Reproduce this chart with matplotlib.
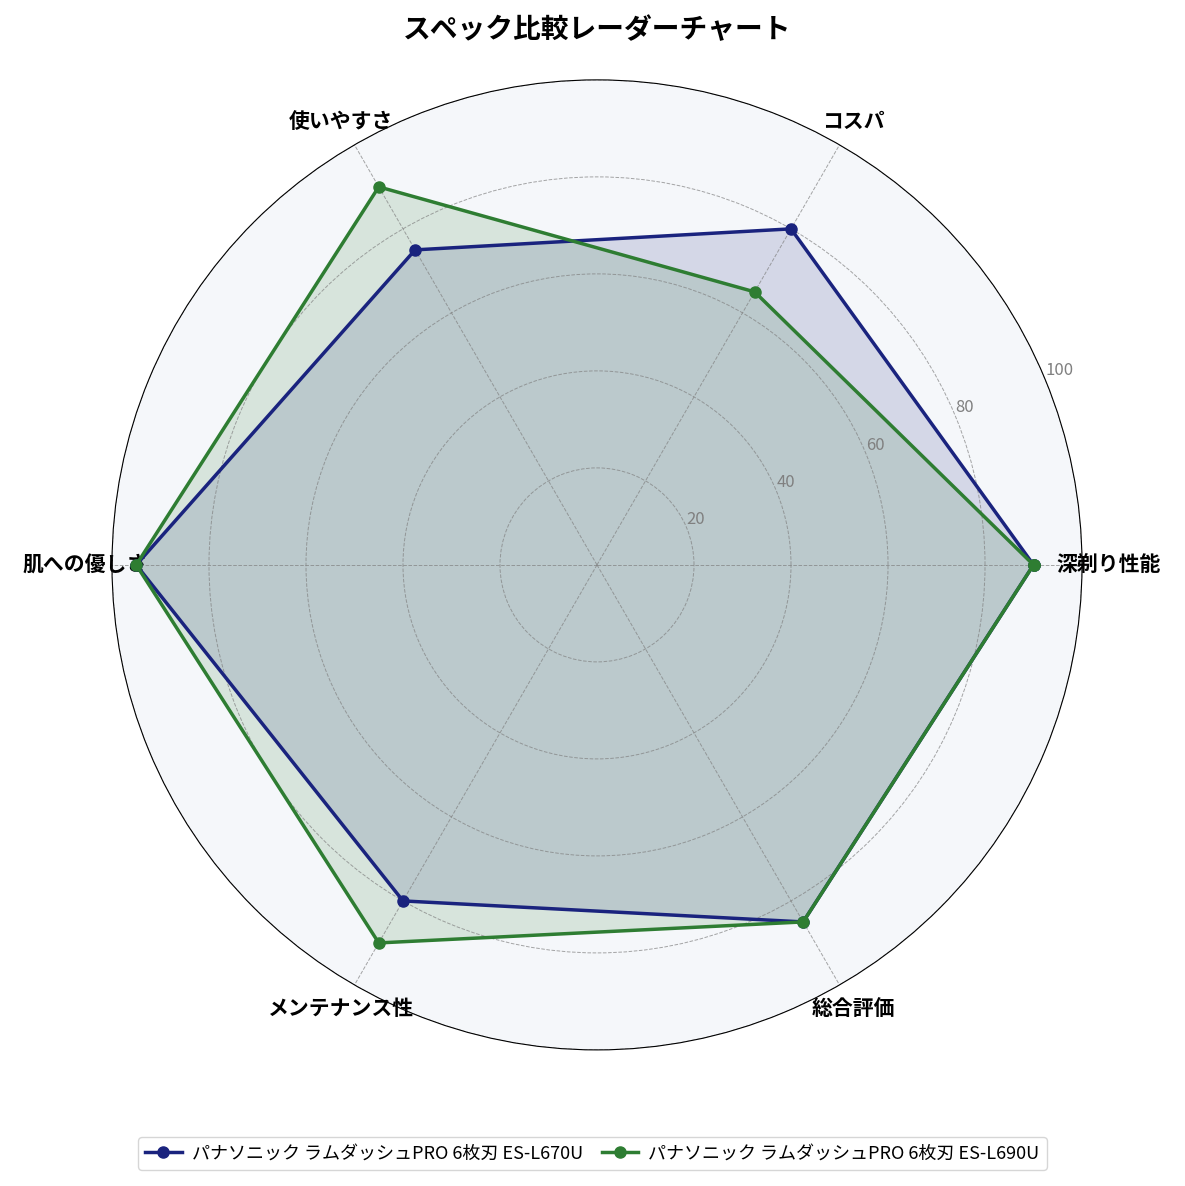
import numpy as np
import matplotlib.pyplot as plt

plt.rcParams['font.family'] = ['Noto Sans CJK JP', 'DejaVu Sans']

categories = ['深剃り性能', 'コスパ', '使いやすさ', '肌への優しさ', 'メンテナンス性', '総合評価']
names = ['パナソニック ラムダッシュPRO 6枚刃 ES-L670U', 'パナソニック ラムダッシュPRO 6枚刃 ES-L690U']
values_670 = [90, 80, 75, 95, 80, 85]
values_690 = [90, 65, 90, 95, 90, 85]
colors = ['#1a237e', '#2e7d32']

angles = np.linspace(0, 2 * np.pi, len(categories), endpoint=False).tolist()
angles += angles[:1]

fig = plt.figure(figsize=(11.85, 11.86), dpi=100)
ax = fig.add_axes([0.0945, 0.1147, 0.8186, 0.818], projection='polar')
ax.set_facecolor('#f5f7fa')

for vals, name, c in zip([values_670, values_690], names, colors):
    v = vals + vals[:1]
    ax.plot(angles, v, color=c, linewidth=2.5, marker='o', markersize=8, label=name)
    ax.fill(angles, v, color=c, alpha=0.15)

ax.set_ylim(0, 100)
ax.set_yticks([20, 40, 60, 80, 100])
ax.set_yticklabels(['20', '40', '60', '80', '100'], color='gray', fontsize=12)
ax.set_rlabel_position(22.5)
ax.set_xticks(angles[:-1])
ax.set_xticklabels(categories, fontsize=15, fontweight='bold')
ax.tick_params(axis='x', pad=9)
ax.grid(color='gray', linestyle='--', linewidth=0.7, alpha=0.7)

ax.set_title('スペック比較レーダーチャート', fontsize=20, fontweight='bold', pad=30)
fig.legend(loc='lower center', bbox_to_anchor=(0.5, 0.006), ncol=2, fontsize=13,
           columnspacing=1.0, handletextpad=0.6)

fig.savefig('out.png', dpi=100)
